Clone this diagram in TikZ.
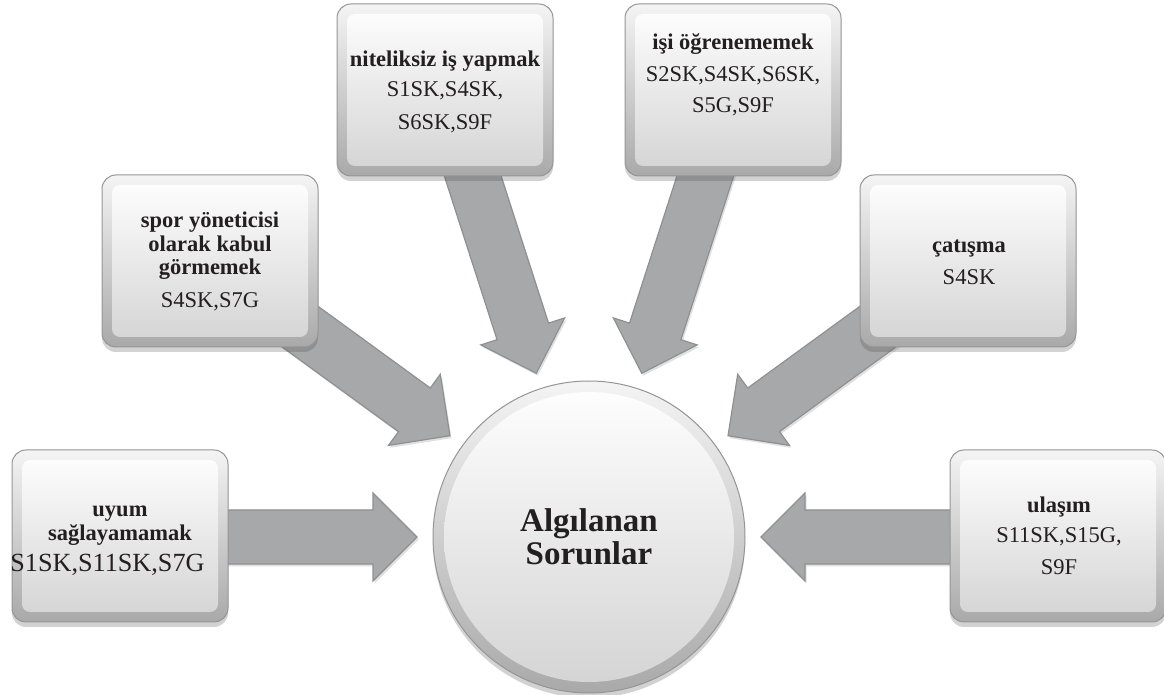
\documentclass[tikz,border=0pt]{standalone}
\usepackage{fontspec}
\setmainfont{Liberation Serif}
\usetikzlibrary{calc,shadows}
\pgfdeclarelayer{bg}
\pgfsetlayers{bg,main}
\definecolor{arrfill}{HTML}{A6A8A9}
\definecolor{arrline}{HTML}{8E9091}
\definecolor{boxedge}{HTML}{959595}
\definecolor{boxtop}{HTML}{F4F4F4}
\definecolor{boxbot}{HTML}{A9A9A9}
\definecolor{facetop}{HTML}{FFFFFF}
\definecolor{facebot}{HTML}{D3D3D3}
\definecolor{txt}{HTML}{231F20}
\tikzset{
  bevelbox/.style={rectangle, rounded corners=7pt, minimum width=108pt, minimum height=86pt,
    inner sep=0pt, draw=boxedge, line width=0.5pt, top color=boxtop, bottom color=boxbot,
    drop shadow={shadow xshift=0pt, shadow yshift=-2.5pt, opacity=0.25, fill=black!70},
    path picture={\shade[top color=facetop, bottom color=facebot, rounded corners=4pt]
      ([shift={(5pt,5pt)}]path picture bounding box.south west) rectangle
      ([shift={(-5pt,-5pt)}]path picture bounding box.north east);}},
  bigcirc/.style={circle, minimum size=156pt, inner sep=0pt, draw=boxedge, line width=0.5pt,
    top color=boxtop, bottom color=boxbot,
    drop shadow={shadow xshift=0pt, shadow yshift=-2.5pt, opacity=0.25, fill=black!70},
    path picture={\shade[top color=white, bottom color=facebot]
      (path picture bounding box.center) circle (72.5pt);}},
  lbl/.style={anchor=base, inner sep=0pt, font=\fontsize{11.25}{11.75}\selectfont\color{txt}},
  title/.style={anchor=base, inner sep=0pt, font=\fontsize{16.5}{16.5}\selectfont\bfseries\color{txt}},
  blockarrow/.style={fill=arrfill, draw=arrline, line width=0.6pt, line join=miter,
    drop shadow={shadow xshift=0.8pt, shadow yshift=-1.2pt, opacity=0.2, fill=black!60}}
}
\newcommand{\blockarr}[2]{%
  \coordinate (hb) at ($(#2)!22pt!(#1)$);
  \path[blockarrow] ($(#1)!13.5pt!90:(#2)$) -- ($(hb)!13.5pt!90:(#2)$) -- ($(hb)!22pt!90:(#2)$)
    -- (#2) -- ($(hb)!22pt!-90:(#2)$) -- ($(hb)!13.5pt!-90:(#2)$) -- ($(#1)!13.5pt!-90:(#2)$) -- cycle;}
\begin{document}
\begin{tikzpicture}[x=0.5pt,y=-0.5pt]
\useasboundingbox (0,0) rectangle (1164,695);
% boxes
\node[bevelbox] (b1) at (120,536) {};
\node[bevelbox] (b2) at (210,261) {};
\node[bevelbox] (b3) at (445,90) {};
\node[bevelbox] (b4) at (733,90) {};
\node[bevelbox] (b5) at (968,261) {};
\node[bevelbox] (b6) at (1058,536) {};
\node[bigcirc] (circ) at (589,537) {};
% texts
\node[lbl] (t1) at (120,517) {\begin{tabular}[t]{@{}c@{}}\textbf{uyum}\\\textbf{sağlayamamak}\\[3.4pt]{\fontsize{13.1}{13.1}\selectfont S1SK,S11SK,S7G}\hspace*{12.5pt}\end{tabular}};
\node[lbl] (t2) at (210,228) {\begin{tabular}[t]{@{}c@{}}\textbf{spor yöneticisi}\\\textbf{olarak kabul}\\\textbf{görmemek}\\[4.75pt]S4SK,S7G\end{tabular}};
\node[lbl] (t3) at (445,67) {\begin{tabular}[t]{@{}c@{}}\textbf{niteliksiz iş yapmak}\\[3.25pt]S1SK,S4SK,\\[4.75pt]S6SK,S9F\end{tabular}};
\node[lbl] (t4) at (733,50) {\begin{tabular}[t]{@{}c@{}}\textbf{işi öğrenememek}\\[4.25pt]S2SK,S4SK,S6SK,\\[3.75pt]S5G,S9F\end{tabular}};
\node[lbl] (t5) at (969,253) {\begin{tabular}[t]{@{}c@{}}\textbf{çatışma}\\[4.25pt]S4SK\end{tabular}};
\node[lbl] (t6) at (1059,513) {\begin{tabular}[t]{@{}c@{}}\textbf{ulaşım}\\[3.25pt]S11SK,S15G,\\[4.25pt]S9F\end{tabular}};
\node[title] (tc) at (589,532) {\begin{tabular}[t]{@{}c@{}}Algılanan\\Sorunlar\end{tabular}};
% arrows
\begin{pgfonlayer}{bg}
  \coordinate (s1) at (b1.center |- circ.center);
  \coordinate (s6) at (b6.center |- circ.center);
  \coordinate (e1) at ($(circ.center)!86pt!(s1)$);
  \coordinate (e2) at ($(circ.center)!86pt!(b2.center)$);
  \coordinate (e3) at ($(circ.center)!86pt!(b3.center)$);
  \coordinate (e4) at ($(circ.center)!86pt!(b4.center)$);
  \coordinate (e5) at ($(circ.center)!86pt!(b5.center)$);
  \coordinate (e6) at ($(circ.center)!86pt!(s6)$);
  \blockarr{s1}{e1}
  \blockarr{b2.center}{e2}
  \blockarr{b3.center}{e3}
  \blockarr{b4.center}{e4}
  \blockarr{b5.center}{e5}
  \blockarr{s6}{e6}
\end{pgfonlayer}
\end{tikzpicture}
\end{document}
